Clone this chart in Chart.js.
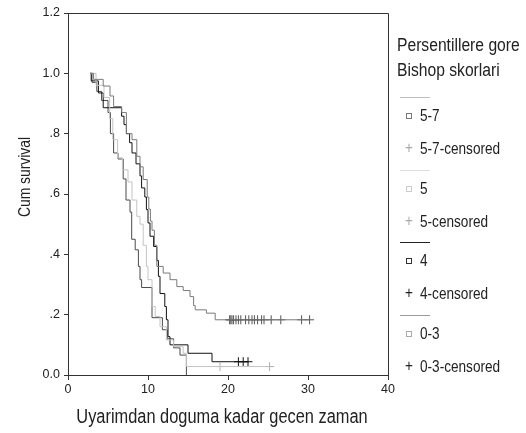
<!DOCTYPE html>
<html>
<head>
<meta charset="utf-8">
<script src="https://cdn.jsdelivr.net/npm/chart.js@4/dist/chart.umd.min.js"></script>
<style>
  body { margin: 0; background: #fff; }
  #wrap { position: relative; width: 526px; height: 433px; }
  #c { position: absolute; left: 0; top: 0; }
  .lg { position: absolute; font-family: 'Liberation Sans', Arial, sans-serif; color: #222; white-space: nowrap; transform: scaleX(0.85); transform-origin: 0 0; }
</style>
</head>
<body>
<div id="wrap">
  <canvas id="c" width="526" height="433"></canvas>
</div>
<script>
const FONT = "'Liberation Sans', Arial, sans-serif";

const groups = ["5-7", "5", "4", "0-3"];
const legendTitle = ["Persentillere gore", "Bishop skorlari"];
const xTitle = "Uyarimdan doguma kadar gecen zaman";
const yTitle = "Cum survival";
const xTickLabels = ["0", "10", "20", "30", "40"];
const yTickLabels = ["0.0", ".2", ".4", ".6", ".8", "1.0", "1.2"];

// event times / survival after the event, per group
const times57 = [2.75, 3.2, 4.4, 5.25, 5.7, 6.7, 7.3, 8.0, 8.6, 9.0, 9.4, 9.9, 10.1, 10.3, 10.5, 10.8, 11.1, 11.9, 12.75, 13.6, 14.4, 15.25, 15.7, 15.9, 17.3, 18.4, 30.2];
const surv57 = [1.0, 0.98, 0.958, 0.925, 0.89, 0.87, 0.80, 0.78, 0.725, 0.69, 0.648, 0.59, 0.55, 0.51, 0.48, 0.43, 0.36, 0.338, 0.316, 0.293, 0.28, 0.26, 0.23, 0.216, 0.205, 0.183, 0.183];
const cens57 = [20.2, 20.35, 20.5, 20.7, 21.0, 21.3, 21.6, 22.2, 22.6, 23.0, 23.3, 23.7, 24.2, 24.5, 25.4, 26.6, 29.2, 30.2];

const times5 = [2.75, 3.5, 4.5, 5.2, 5.6, 6.2, 6.8, 7.5, 8.0, 8.6, 9.0, 9.4, 9.8, 10.0, 10.5, 10.9, 11.5, 12.3, 13.2, 14.4, 14.8, 25.2];
const surv5 = [1.0, 0.96, 0.92, 0.85, 0.78, 0.72, 0.68, 0.64, 0.58, 0.526, 0.50, 0.43, 0.36, 0.316, 0.227, 0.194, 0.16, 0.116, 0.094, 0.072, 0.028, 0.028];
const cens5 = [19.0, 25.2];

const times4 = [2.75, 2.9, 3.8, 4.4, 6.7, 7.0, 7.3, 7.7, 8.0, 8.5, 9.0, 9.2, 9.6, 9.8, 10.0, 10.25, 10.7, 11.1, 11.3, 11.5, 12.1, 12.3, 12.5, 12.75, 15.0, 18.0, 22.6];
const surv4 = [1.0, 0.975, 0.935, 0.886, 0.858, 0.83, 0.80, 0.77, 0.736, 0.70, 0.66, 0.62, 0.59, 0.548, 0.504, 0.46, 0.426, 0.38, 0.327, 0.27, 0.227, 0.183, 0.127, 0.10, 0.072, 0.044, 0.044];
const cens4 = [21.3, 21.9, 22.5];

const times03 = [2.75, 3.0, 3.6, 4.2, 5.0, 5.3, 5.7, 6.25, 6.9, 7.25, 7.75, 7.96, 8.4, 8.8, 9.0, 9.2, 10.5, 11.8, 12.4, 13.2, 14.0, 14.8];
const surv03 = [1.0, 0.97, 0.94, 0.91, 0.87, 0.80, 0.736, 0.716, 0.65, 0.58, 0.54, 0.45, 0.415, 0.36, 0.316, 0.29, 0.19, 0.15, 0.12, 0.09, 0.066, 0.0];
const cens03 = [];

const lineColors = ["#7a7a7a", "#c4c4c4", "#111111", "#4a4a4a"];
const crossColors = ["#555555", "#b0b0b0", "#111111", "#222222"];
const sepColors = ["#bdbdbd", "#dddddd", "#222222", "#9a9a9a"];
const squareColors = ["#777777", "#cccccc", "#333333", "#aaaaaa"];
const legendCrossColors = ["#aaaaaa", "#aaaaaa", "#222222", "#222222"];

const series = [
  [times57, surv57, cens57],
  [times5, surv5, cens5],
  [times4, surv4, cens4],
  [times03, surv03, cens03],
];

function stepAt(times, surv, t) {
  let v = surv[0];
  for (let i = 0; i < times.length; i++) if (times[i] <= t) v = surv[i];
  return v;
}

const datasets = [];
series.forEach(([tm, sv, cs], i) => {
  datasets.push({
    label: groups[i],
    data: tm.map((t, k) => ({ x: t, y: sv[k] })),
    stepped: "before",
    borderColor: lineColors[i],
    borderWidth: 1,
    pointRadius: 0,
    fill: false,
  });
  datasets.push({
    label: groups[i] + "-censored",
    data: cs.map(t => ({ x: t, y: stepAt(tm, sv, t) })),
    showLine: false,
    pointStyle: "cross",
    pointRadius: 4.5,
    borderColor: crossColors[i],
    borderWidth: 1,
  });
});

function narrowText(ctx, text, x, y, size, rot) {
  ctx.save();
  ctx.translate(x, y);
  if (rot) ctx.rotate(rot);
  ctx.scale(0.84, 1);
  ctx.fillStyle = "#222";
  ctx.font = size + "px " + FONT;
  ctx.textAlign = "center";
  ctx.textBaseline = "middle";
  ctx.fillText(text, 0, 0);
  ctx.restore();
}

const frame = {
  id: "frame",
  afterDraw(chart) {
    const { ctx, chartArea: a } = chart;
    ctx.save();
    ctx.strokeStyle = "#333";
    ctx.lineWidth = 1;
    ctx.beginPath();
    ctx.moveTo(a.left, a.top + 0.5);
    ctx.lineTo(a.right + 0.5, a.top + 0.5);
    ctx.lineTo(a.right + 0.5, a.bottom);
    ctx.stroke();
    ctx.restore();
    narrowText(ctx, yTitle, 25, 177, 16.5, -Math.PI / 2);
    narrowText(ctx, xTitle, 222, 418, 19.5, 0);
  },
};

new Chart(document.getElementById("c"), {
  type: "line",
  data: { datasets },
  options: {
    responsive: false,
    animation: false,
    layout: { padding: { left: 0, right: 138, top: 13, bottom: 0 } },
    plugins: { legend: { display: false }, tooltip: { enabled: false } },
    scales: {
      x: {
        type: "linear",
        min: 0,
        max: 40,
        ticks: {
          stepSize: 10,
          padding: 2,
          color: "#222",
          font: { family: FONT, size: 12.5 },
          callback: (v, i) => xTickLabels[i],
        },
        grid: { drawOnChartArea: false, tickLength: 5, color: "#333" },
        border: { color: "#333" },
        afterFit: s => { s.height = 58; },
      },
      y: {
        min: 0,
        max: 1.2,
        ticks: {
          stepSize: 0.2,
          padding: 4,
          color: "#222",
          font: { family: FONT, size: 12.5 },
          callback: (v, i) => yTickLabels[i],
        },
        grid: { drawOnChartArea: false, tickLength: 4, color: "#333" },
        border: { color: "#333" },
        afterFit: s => { s.width = 68; },
      },
    },
  },
  plugins: [frame],
});

// legend
const wrap = document.getElementById("wrap");
function add(html, css) {
  const d = document.createElement("div");
  d.className = "lg";
  d.style.cssText = css;
  d.innerHTML = html;
  wrap.appendChild(d);
  return d;
}
add(legendTitle.join("<br>"), "left:397px;top:33px;font-size:18px;line-height:25px;transform:scaleX(0.87);");
groups.forEach((g, i) => {
  const base = 97 + 72.7 * i;
  add("", `left:400px;top:${base}px;width:30px;height:1px;background:${sepColors[i]};transform:none;`);
  add("", `left:406px;top:${base + 16}px;width:4px;height:4px;border:1px solid ${squareColors[i]};transform:none;`);
  add(g, `left:420px;top:${base + 10}px;font-size:16px;line-height:18px;`);
  add("+", `left:405px;top:${base + 42}px;font-size:16px;line-height:18px;color:${legendCrossColors[i]};`);
  add(g + "-censored", `left:420px;top:${base + 43}px;font-size:16px;line-height:18px;`);
});
</script>
</body>
</html>
